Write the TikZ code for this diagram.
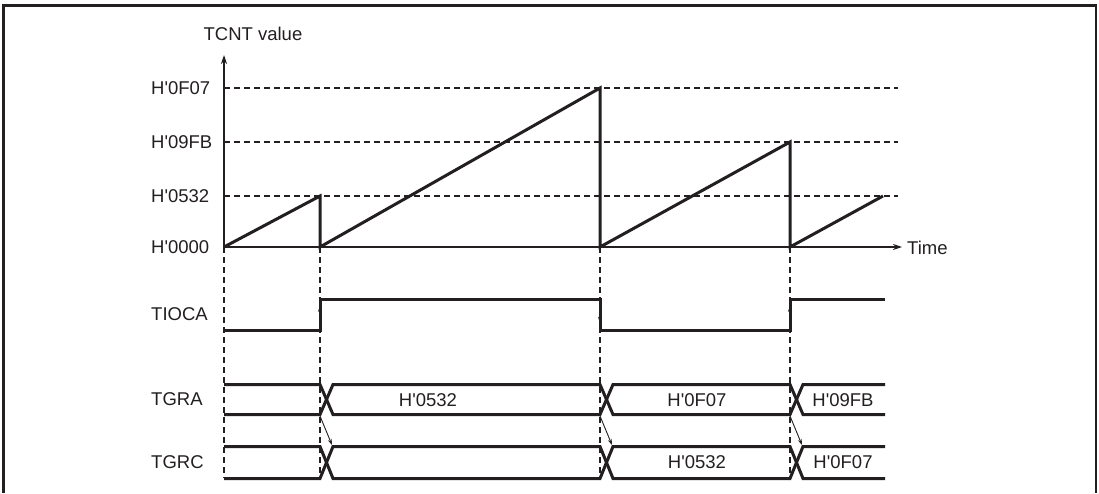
\documentclass[tikz,border=0pt]{standalone}
\usepackage{fontspec}
\setmainfont{Liberation Sans}[Ligatures=TeXOff]
\usepackage{xcolor}
\usetikzlibrary{arrows.meta,positioning,calc}
\definecolor{ink}{HTML}{231F20}

\begin{document}
\begin{tikzpicture}[x=1pt, y=-1pt, >=Stealth, ink,
  font=\fontsize{18.5}{20}\selectfont,
  sig/.style={line width=3pt, line join=miter},
  axis/.style={line width=1.3pt, -{Stealth[length=9pt,width=6pt]}},
  guide/.style={line width=1.1pt, dash pattern=on 6pt off 4pt},
  lbl/.style={anchor=west, inner sep=0pt},
  val/.style={inner sep=0pt},
  tip/.style={line width=0.9pt, -{Stealth[length=6pt,width=4pt]}}]

  \useasboundingbox (0,0) rectangle (1099,493);

  % Frame (open at the bottom)
  \draw[line width=2.5pt] (3.5,493) -- (3.5,5.5) -- (1096,5.5) -- (1096,493);

  % Define coordinates of the counter plot
  \coordinate (o) at (224,247);
  \coordinate (yTop) at (224,55);
  \coordinate (tEnd) at (902,247);
  \coordinate (p1) at (320,196);
  \coordinate (t1) at (320,247);
  \coordinate (p2) at (600,88);
  \coordinate (t2) at (600,247);
  \coordinate (p3) at (790,142);
  \coordinate (t3) at (790,247);
  \coordinate (p4) at (883,196);
  \coordinate (hA) at (898,88);
  \coordinate (hB) at (898,142);
  \coordinate (hC) at (898,196);
  \coordinate (d0) at (224,478);
  \coordinate (d1) at (320,478);
  \coordinate (d2) at (600,478);
  \coordinate (d3) at (790,478);

  % Labels
  \node[val] (tcnt) at (253,34) {TCNT value};
  \node[lbl] (time) at (907,248) {Time};
  \node[lbl] (vF07) at (151,88) {H'0F07};
  \node[lbl] (v9FB) at (151,142) {H'09FB};
  \node[lbl] (v532) at (151,196) {H'0532};
  \node[lbl] (v000) at (151,247) {H'0000};
  \node[lbl] (tioca) at (151,314) {TIOCA};
  \node[lbl] (tgra) at (151,399) {TGRA};
  \node[lbl] (tgrc) at (151,462) {TGRC};

  % Guides
  \draw[guide] (o |- hA) -- (hA);
  \draw[guide] (o |- hB) -- (hB);
  \draw[guide] (o |- hC) -- (hC);
  \draw[guide] (o) -- (d0);
  \draw[guide] (t1) -- (d1);
  \draw[guide] (t2) -- (d2);
  \draw[guide] (t3) -- (d3);

  % Axes
  \draw[axis] (o) -- (yTop);
  \draw[axis] (o) -- (tEnd);

  % Counter ramps
  \draw[sig] (o) -- (p1) -- (t1) -- (p2) -- (t2) -- (p3) -- (t3) -- (p4);

  % TIOCA output
  \coordinate (a0) at (224,330.5);
  \coordinate (a1) at (320,330.5);
  \coordinate (a2) at (320,299.5);
  \coordinate (a3) at (600,299.5);
  \coordinate (a4) at (600,330.5);
  \coordinate (a5) at (790,330.5);
  \coordinate (a6) at (790,299.5);
  \coordinate (a7) at (885,299.5);
  \draw[sig] (a0) -- (a1) -- (a2) -- (a3) -- (a4) -- (a5) -- (a6) -- (a7);
  \draw[tip] (a1) -- ($(a1)!0.8!(a2)$);
  \draw[tip] (a3) -- ($(a3)!0.75!(a4)$);
  \draw[tip] (a5) -- ($(a5)!0.8!(a6)$);

  % TGRA bus
  \draw[sig] (224,384.5) -- (320,384.5) -- (333,414.5) -- (600,414.5) -- (613,384.5)
    -- (790,384.5) -- (803,414.5) -- (885,414.5);
  \draw[sig] (224,414.5) -- (320,414.5) -- (333,384.5) -- (600,384.5) -- (613,414.5)
    -- (790,414.5) -- (803,384.5) -- (885,384.5);
  \node[val] (ra1) at (428,400) {H'0532};
  \node[val] (ra2) at (697,400) {H'0F07};
  \node[val] (ra3) at (843,400) {H'09FB};

  % TGRC bus
  \draw[sig] (224,446.5) -- (320,446.5) -- (333,478.5) -- (600,478.5) -- (613,446.5)
    -- (790,446.5) -- (803,478.5) -- (885,478.5);
  \draw[sig] (224,478.5) -- (320,478.5) -- (333,446.5) -- (600,446.5) -- (613,478.5)
    -- (790,478.5) -- (803,446.5) -- (885,446.5);
  \node[val] (rc2) at (697,462) {H'0532};
  \node[val] (rc3) at (843,462) {H'0F07};

  % Transfer TGRA -> TGRC
  \draw[tip] (320,416) -- (332,445);
  \draw[tip] (600,416) -- (612,445);
  \draw[tip] (790,416) -- (802,445);
\end{tikzpicture}
\end{document}
